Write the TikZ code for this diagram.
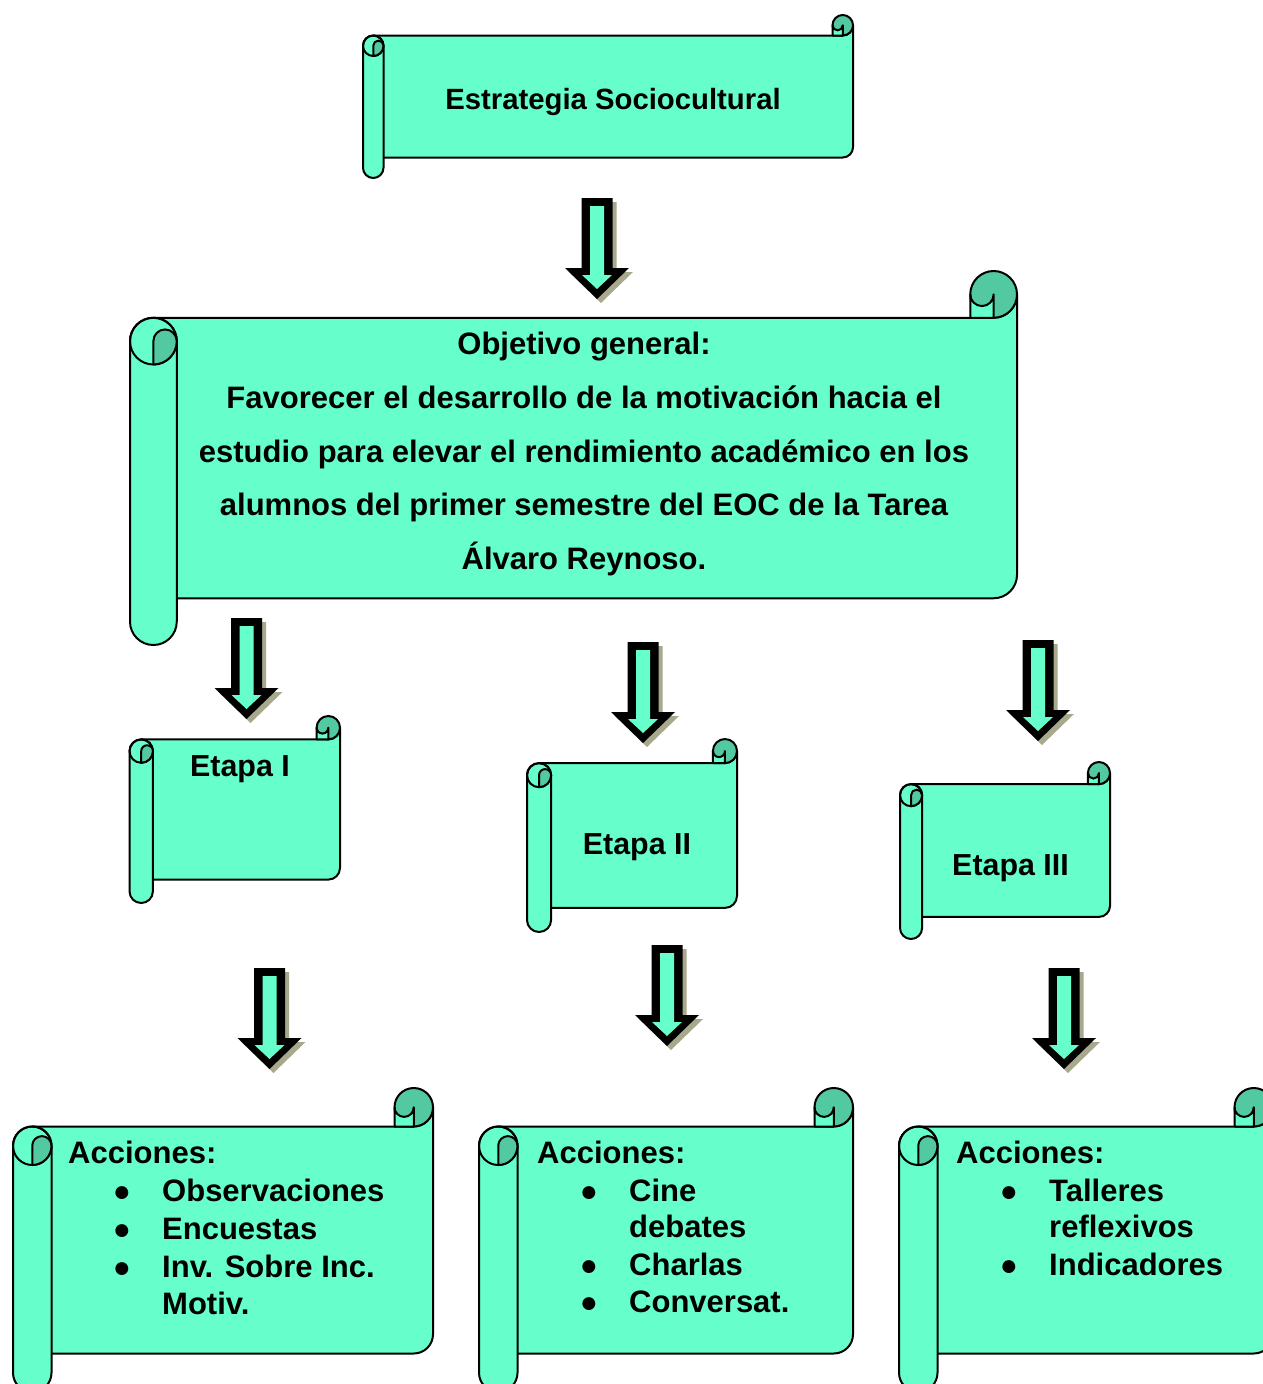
\documentclass[tikz,border=0pt]{standalone}
\usepackage{fontspec}
\setmainfont{Liberation Sans}
\usetikzlibrary{positioning}
\definecolor{scrollgreen}{HTML}{66FFCC}
\definecolor{curlgreen}{HTML}{52C9A0}
\definecolor{arrowshade}{HTML}{A8A88C}

\tikzset{
  scrollline/.style={draw=black, line width=2pt, line join=round},
  lbl/.style={inner sep=0pt, font=\bfseries\fontsize{31}{37}\selectfont},
  dot/.style={inner sep=0pt, anchor=base, font=\fontsize{30}{30}\selectfont},
  bigarrow/.style={fill=black},
}

% horizontal scroll: left, top, right, bottom, roll size
\newcommand{\scrollbox}[5]{%
  % body
  \filldraw[scrollline, fill=scrollgreen] ({#1+#5/2},{#2+#5}) -- ({#3-#5/2},{#2+#5})
    arc[start angle=90, end angle=0, radius=#5/2] -- (#3,{#4-1.5*#5})
    arc[start angle=0, end angle=90, radius=#5/2] -- ({#1+#5/2},{#4-#5}) -- cycle;
  % right curl
  \filldraw[scrollline, fill=curlgreen] ({#3-#5/2},{#2+#5/2}) circle[radius=#5/2];
  \filldraw[scrollline, fill=scrollgreen] ({#3-#5},{#2+#5/2})
    arc[start angle=180, end angle=0, radius=#5/4] -- ({#3-#5/2},{#2+#5})
    -- ({#3-#5},{#2+#5}) -- cycle;
  % left roll
  \filldraw[scrollline, fill=scrollgreen] (#1,{#2+1.5*#5}) -- (#1,{#4-#5/2})
    arc[start angle=180, end angle=0, radius=#5/2] -- ({#1+#5},{#2+1.5*#5})
    arc[start angle=0, end angle=-180, radius=#5/2] -- cycle;
  \draw[scrollline] ({#1+#5/2},{#2+1.5*#5}) circle[radius=#5/2];
  \filldraw[scrollline, fill=curlgreen] ({#1+#5/2},{#2+1.5*#5})
    arc[start angle=180, end angle=360, radius=#5/4]
    arc[start angle=0, end angle=90, radius=#5/2] -- cycle;
}

% block arrow pointing down: centre x, top y
\newcommand{\downblock}[2]{%
  \begin{scope}[shift={(#1,#2)}]
    \fill[arrowshade] (-11.5,4) -- (19.5,4) -- (19.5,74) -- (36,74) -- (4,105)
      -- (-28,74) -- (-11.5,74) -- cycle;
    \fill[bigarrow] (-15.5,0) -- (15.5,0) -- (15.5,70) -- (32,70) -- (0,101)
      -- (-32,70) -- (-15.5,70) -- cycle;
    \fill[scrollgreen] (-7,8) -- (7,8) -- (7,77) -- (15,77) -- (0,91)
      -- (-15,77) -- (-7,77) -- cycle;
  \end{scope}
}

\begin{document}
\begin{tikzpicture}[x=1pt, y=-1pt]
  \useasboundingbox (0,0) rectangle (1263,1384);
  \clip (0,0) rectangle (1263,1384);

  % scrolls
  \scrollbox{363}{15}{853}{178}{20.5}
  \scrollbox{130}{271}{1017}{645}{46.75}
  \scrollbox{129.5}{716}{340}{903}{23.4}
  \scrollbox{527}{739}{737}{932}{24.1}
  \scrollbox{900}{762}{1110}{939}{22.1}
  \scrollbox{13}{1088}{433}{1392}{38.5}
  \scrollbox{479}{1088}{853}{1392}{38.5}
  \scrollbox{899}{1088}{1273}{1392}{38.5}

  % arrows
  \downblock{597}{198}
  \downblock{246.5}{618}
  \downblock{643}{642}
  \downblock{1038}{640}
  \downblock{269.5}{968}
  \downblock{667}{945}
  \downblock{1064}{968}

  % titles
  \node[lbl, anchor=base, font=\bfseries\fontsize{29.3}{35}\selectfont] (estrategia)
    at (613,109.5) {Estrategia Sociocultural};
  \node[lbl, align=center, font=\bfseries\fontsize{31}{53.7}\selectfont] (objetivo)
    at (584,454) {Objetivo general:\\
      Favorecer el desarrollo de la motivación hacia el\\
      estudio para elevar el rendimiento académico en los\\
      alumnos del primer semestre del EOC de la Tarea\\
      Álvaro Reynoso.};
  \node[lbl, anchor=base, font=\bfseries\fontsize{30.4}{36}\selectfont] (etapa1)
    at (240,776) {Etapa I};
  \node[lbl, anchor=base, font=\bfseries\fontsize{30.4}{36}\selectfont] (etapa2)
    at (637,854) {Etapa II};
  \node[lbl, anchor=base, font=\bfseries\fontsize{30.4}{36}\selectfont] (etapa3)
    at (1010.5,875) {Etapa III};

  % acciones, etapa I
  \node[lbl, anchor=base west] (acc1) at (68,1163) {Acciones:};
  \foreach \txt/\yy [count=\i] in {Observaciones/1201, Encuestas/1239, Inv. Sobre Inc./1277} {
    \node[dot] (bullet1\i) at (122,\yy) {●};
    \node[lbl, anchor=base west] (item1\i) at (162,\yy) {\txt};
  }
  \node[lbl, anchor=base west] (item1x) at (162,1314) {Motiv.};

  % acciones, etapa II
  \node[lbl, anchor=base west] (acc2) at (537,1163) {Acciones:};
  \foreach \txt/\yy [count=\i] in {Cine/1201, Charlas/1275, Conversat./1312} {
    \node[dot] (bullet2\i) at (589,\yy) {●};
    \node[lbl, anchor=base west] (item2\i) at (629,\yy) {\txt};
  }
  \node[lbl, anchor=base west] (item2x) at (629,1237) {debates};

  % acciones, etapa III
  \node[lbl, anchor=base west] (acc3) at (956,1163) {Acciones:};
  \foreach \txt/\yy [count=\i] in {Talleres/1201, Indicadores/1275} {
    \node[dot] (bullet3\i) at (1009,\yy) {●};
    \node[lbl, anchor=base west] (item3\i) at (1049,\yy) {\txt};
  }
  \node[lbl, anchor=base west] (item3x) at (1049,1237) {reflexivos};
\end{tikzpicture}
\end{document}
